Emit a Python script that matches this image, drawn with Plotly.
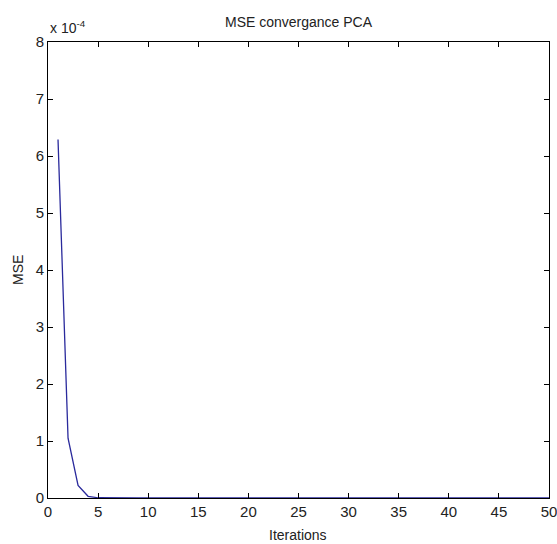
import plotly.graph_objects as go

iterations = list(range(1, 51))
mse = [6.29e-4, 1.05e-4, 0.22e-4, 0.03e-4, 0.004e-4, 0.0005e-4, 0.0001e-4, 0.0, 0.0, 0.0,
       0.0, 0.0, 0.0, 0.0, 0.0, 0.0, 0.0, 0.0, 0.0, 0.0,
       0.0, 0.0, 0.0, 0.0, 0.0, 0.0, 0.0, 0.0, 0.0, 0.0,
       0.0, 0.0, 0.0, 0.0, 0.0, 0.0, 0.0, 0.0, 0.0, 0.0,
       0.0, 0.0, 0.0, 0.0, 0.0, 0.0, 0.0, 0.0, 0.0, 0.0]

x_ticks = [0, 5, 10, 15, 20, 25, 30, 35, 40, 45, 50]
y_tick_vals = [0, 1e-4, 2e-4, 3e-4, 4e-4, 5e-4, 6e-4, 7e-4, 8e-4]
y_tick_text = ["0", "1", "2", "3", "4", "5", "6", "7", "8"]

title_text = "MSE convergance PCA"
x_label = "Iterations"
y_label = "MSE"
exponent_text = "x 10<sup>-4</sup>"

FONT = "Liberation Sans, Arial, sans-serif"

fig = go.Figure()
fig.add_trace(go.Scatter(x=iterations, y=mse, mode="lines",
                         line=dict(color="#2a2a9c", width=1.3),
                         showlegend=False))

axis_common = dict(showline=True, linecolor="black", linewidth=1, mirror="ticks",
                   ticks="inside", ticklen=5, tickcolor="black", tickwidth=1,
                   showgrid=False, zeroline=False, ticklabeloverflow="allow",
                   tickfont=dict(family=FONT, size=15, color="#222"))

fig.update_xaxes(range=[0, 50], tickvals=x_ticks, **axis_common)
fig.update_yaxes(range=[0, 8e-4], tickvals=y_tick_vals, ticktext=y_tick_text, **axis_common)

W, H = 557, 544
ml, mr, mt, mb = 48, 8, 42, 46
pw, ph = W - ml - mr, H - mt - mb

def px_x(p):
    return (p - ml) / pw

def px_y(p):
    return (H - mb - p) / ph

annotations = [
    dict(text=title_text, x=px_x(299), y=px_y(22), xref="paper", yref="paper",
         xanchor="center", yanchor="middle", showarrow=False,
         font=dict(family=FONT, size=14, color="#222")),
    dict(text=x_label, x=px_x(298), y=px_y(535), xref="paper", yref="paper",
         xanchor="center", yanchor="middle", showarrow=False,
         font=dict(family=FONT, size=14, color="#222")),
    dict(text=y_label, x=px_x(18), y=px_y(270), xref="paper", yref="paper",
         xanchor="center", yanchor="middle", showarrow=False, textangle=-90,
         font=dict(family=FONT, size=14, color="#222")),
    dict(text=exponent_text, x=px_x(48), y=px_y(38), xref="paper", yref="paper",
         xanchor="left", yanchor="bottom", showarrow=False,
         font=dict(family=FONT, size=14, color="#222")),
]

fig.update_layout(width=W, height=H, margin=dict(l=ml, r=mr, t=mt, b=mb, autoexpand=False),
                  paper_bgcolor="white", plot_bgcolor="white",
                  annotations=annotations)

fig.write_html("out.html", config={"displayModeBar": False},
               post_script="document.body.style.margin='0';document.body.style.overflow='hidden';")
